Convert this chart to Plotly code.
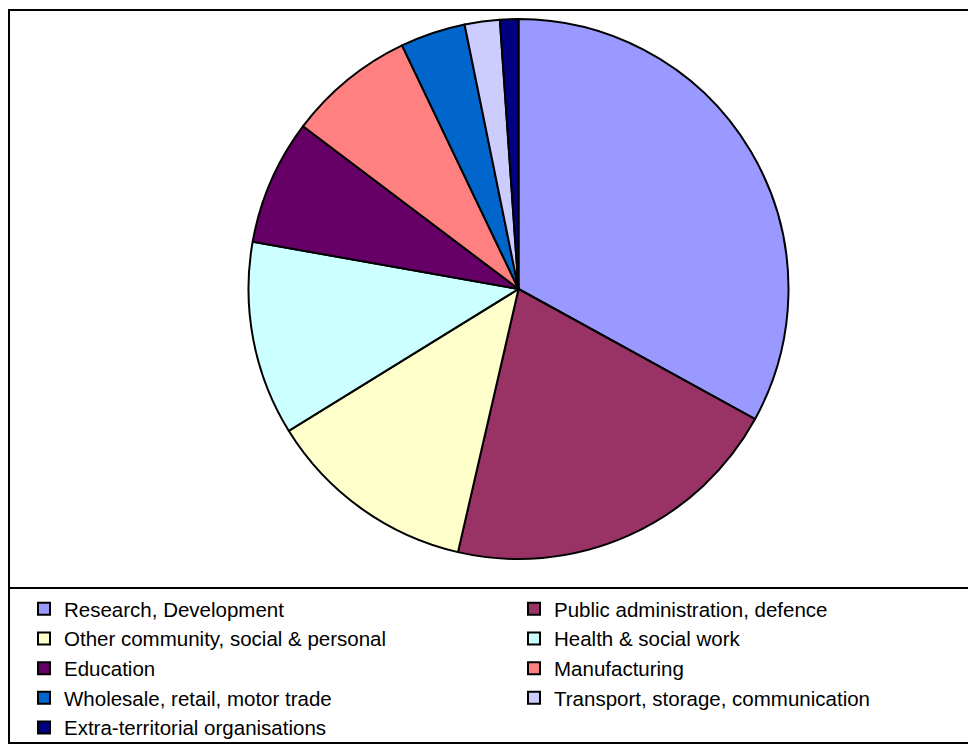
import plotly.graph_objects as go

# sector shares (%)
sectors = [
    "Research, Development",
    "Public administration, defence",
    "Other community, social & personal",
    "Health & social work",
    "Education",
    "Manufacturing",
    "Wholesale, retail, motor trade",
    "Transport, storage, communication",
    "Extra-territorial organisations",
]
shares = [33.0, 20.6, 12.6, 11.6, 7.5, 7.6, 3.9, 2.1, 1.1]
colours = ["#9999FF", "#993366", "#FFFFCC", "#CCFFFF", "#660066",
           "#FF8080", "#0066CC", "#CCCCFF", "#000080"]

W, H = 976, 745
# the page body adds an 8px offset, so positions below are in figure pixels
cx, cy, r = 510.5, 281, 270

fig = go.Figure(go.Pie(
    labels=sectors,
    values=shares,
    sort=False,
    direction="clockwise",
    rotation=0,
    textinfo="none",
    hoverinfo="label+percent",
    marker=dict(colors=colours, line=dict(color="black", width=2)),
    domain=dict(x=[(cx - r) / W, (cx + r) / W],
                y=[1 - (cy + r) / H, 1 - (cy - r) / H]),
))

fig.update_layout(
    width=W, height=H,
    margin=dict(l=0, r=0, t=0, b=0, autoexpand=False),
    paper_bgcolor="white",
    plot_bgcolor="white",
    font=dict(family="Liberation Sans, Arial, sans-serif", color="black"),
    showlegend=True,
    legend=dict(
        orientation="h",
        x=16 / W, xanchor="left",
        y=1 - 581 / H, yanchor="top",
        entrywidth=445, entrywidthmode="pixels",
        font=dict(size=20.5),
        bgcolor="rgba(0,0,0,0)",
        traceorder="normal",
        itemclick=False,
    ),
    shapes=[
        dict(type="rect", xref="paper", yref="paper",
             x0=1 / W, x1=1.02, y0=1 - 735 / H, y1=1 - 2 / H,
             line=dict(color="black", width=2)),
        dict(type="line", xref="paper", yref="paper",
             x0=1 / W, x1=1.02, y0=1 - 580 / H, y1=1 - 580 / H,
             line=dict(color="black", width=2)),
    ],
)

fig.write_html("out.html")
